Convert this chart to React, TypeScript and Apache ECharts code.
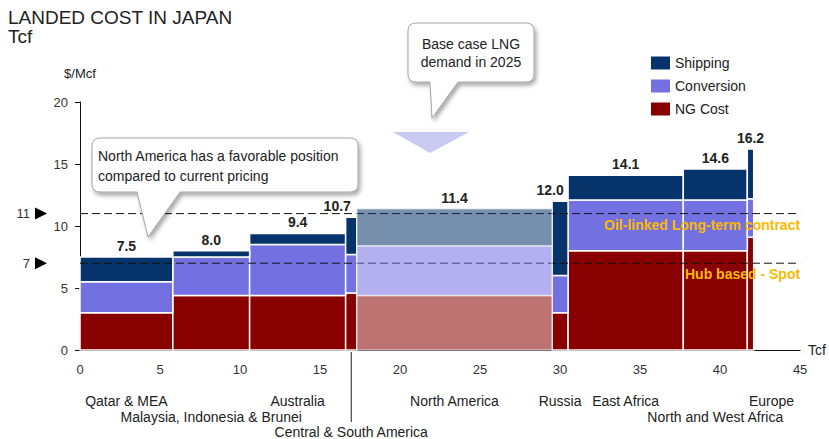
import React, { useEffect, useRef } from "react";
import * as echarts from "echarts";

// Supply regions, in merit order along the volume axis
const regions = [
  "Qatar & MEA",
  "Malaysia, Indonesia & Brunei",
  "Australia",
  "Central & South America",
  "North America",
  "Russia",
  "East Africa",
  "North and West Africa",
  "Europe",
];
// Volume (Tcf) supplied by each region = bar width
const volumeTcf = [5.8, 4.8, 6.0, 0.7, 12.2, 1.0, 7.2, 4.0, 0.4];
// Cost components ($/Mcf)
const ngCost = [3.0, 4.4, 4.4, 4.6, 4.4, 3.0, 8.0, 8.0, 9.1];
const conversion = [2.5, 3.1, 4.1, 3.1, 4.0, 3.0, 4.1, 4.1, 3.1];
const shipping = [2.0, 0.5, 0.9, 3.0, 3.0, 6.0, 2.0, 2.5, 4.0];
// Reference price levels ($/Mcf)
const priceLevels = [11, 7];
const priceLevelNames = ["Oil-linked Long-term contract", "Hub based - Spot"];
const highlightedRegion = "North America";

// Label layout (not data)
const categoryRow = [0, 1, 0, 2, 0, 0, 0, 1, 0];
const categoryShift = [0, 0, 0, 0, 0, 0, 0, 0, 21];
const totalShift = [0, 0, 0, -14, 0, -10, 0, 0, 0];

const FONT = "'Liberation Sans', Arial, sans-serif";
const C_SHIP = "#06336a";
const C_CONV = "#7370e2";
const C_NG = "#880000";
const GOLD = "#fbba00";

const starts: number[] = [];
volumeTcf.reduce((acc, v, i) => {
  starts[i] = acc;
  return acc + v;
}, 0);

const calloutA =
  "M8,0 H258 Q266,0 266,8 V46 Q266,54 258,54 H88 L56,99 L45,54 H8 Q0,54 0,46 V8 Q0,0 8,0 Z";
const calloutB =
  "M8,0 H118 Q126,0 126,8 V51 Q126,59 118,59 H50 L24,95 L22,59 H8 Q0,59 0,51 V8 Q0,0 8,0 Z";
echarts.graphic.registerShape("calloutA", echarts.graphic.extendPath(calloutA, {}));
echarts.graphic.registerShape("calloutB", echarts.graphic.extendPath(calloutB, {}));

type Part = "ng" | "conv" | "ship";

function segmentData(part: Part) {
  return regions.map((_, i) => {
    const base = part === "ng" ? 0 : part === "conv" ? ngCost[i] : ngCost[i] + conversion[i];
    const h = part === "ng" ? ngCost[i] : part === "conv" ? conversion[i] : shipping[i];
    return [starts[i], starts[i] + volumeTcf[i], base, base + h, i];
  });
}

function segmentSeries(name: string, part: Part, color: string, topLayer: boolean) {
  return {
    type: "custom",
    name,
    z: topLayer ? 4 : 2,
    itemStyle: { color },
    data: segmentData(part),
    encode: { x: [0, 1], y: [2, 3] },
    renderItem: (_params: any, api: any) => {
      const i = api.value(4);
      const isHi = regions[i] === highlightedRegion;
      const x0 = api.value(0);
      const x1 = api.value(1);
      const lo = api.value(2);
      const hi = api.value(3);
      const pTL = api.coord([x0, hi]);
      const pBR = api.coord([x1, lo]);
      const children: any[] = [];
      if (isHi === topLayer) {
        children.push({
          type: "rect",
          shape: { x: pTL[0], y: pTL[1], width: pBR[0] - pTL[0], height: pBR[1] - pTL[1] },
          style: {
            fill: color,
            stroke: "#ffffff",
            lineWidth: 1.5,
            opacity: isHi ? 0.55 : 1,
          },
        });
      }
      if (topLayer && part === "ship") {
        const total = ngCost[i] + conversion[i] + shipping[i];
        children.push({
          type: "text",
          x: (pTL[0] + pBR[0]) / 2 + totalShift[i],
          y: pTL[1] - 11,
          style: {
            text: total.toFixed(1),
            fill: "#222",
            font: `bold 14px ${FONT}`,
            align: "center",
            verticalAlign: "middle",
          },
        });
      }
      if (topLayer && part === "ng") {
        const cx = (pTL[0] + pBR[0]) / 2;
        const row = categoryRow[i];
        const ty = pBR[1] + 51 + row * 15.5;
        if (row === 2) {
          children.push({
            type: "line",
            shape: { x1: cx, y1: pBR[1] + 2, x2: cx, y2: ty - 10 },
            style: { stroke: "#222", lineWidth: 1 },
          });
        }
        children.push({
          type: "text",
          x: cx + categoryShift[i],
          y: ty,
          style: {
            text: regions[i],
            fill: "#222",
            font: `14px ${FONT}`,
            align: "center",
            verticalAlign: "middle",
          },
        });
      }
      return { type: "group", children };
    },
  };
}

const priceLineSeries = {
  type: "custom",
  name: "price levels",
  z: 3,
  data: priceLevels.map((v, i) => [v, i]),
  encode: { y: 0 },
  renderItem: (_params: any, api: any) => {
    const v = api.value(0);
    const i = api.value(1);
    const a = api.coord([0, v]);
    const b = api.coord([45, v]);
    return {
      type: "group",
      children: [
        {
          type: "line",
          shape: { x1: a[0], y1: a[1], x2: b[0], y2: b[1] },
          style: { stroke: "#111", lineWidth: 1, lineDash: [8, 4] },
        },
        {
          type: "text",
          x: b[0],
          y: a[1] + 11,
          style: {
            text: priceLevelNames[i],
            fill: GOLD,
            font: `bold 14px ${FONT}`,
            align: "right",
            verticalAlign: "middle",
          },
        },
        {
          type: "text",
          x: a[0] - 50,
          y: a[1],
          style: {
            text: String(v),
            fill: "#333",
            font: `13px ${FONT}`,
            align: "right",
            verticalAlign: "middle",
          },
        },
        {
          type: "polygon",
          shape: {
            points: [
              [a[0] - 45, a[1] - 6],
              [a[0] - 33, a[1]],
              [a[0] - 45, a[1] + 6],
            ],
          },
          style: { fill: "#000" },
        },
      ],
    };
  },
};

export default function App() {
  const ref = useRef<HTMLDivElement>(null);

  useEffect(() => {
    if (!ref.current) return;
    const chart = echarts.init(ref.current, undefined, { renderer: "svg" });
    chart.setOption({
      animation: false,
      textStyle: { fontFamily: FONT },
      grid: { left: 80, right: 28, top: 102, bottom: 89, containLabel: false },
      legend: {
        data: ["Shipping", "Conversion", "NG Cost"],
        orient: "vertical",
        left: 651,
        top: 56,
        padding: 0,
        itemWidth: 19,
        itemHeight: 13,
        itemGap: 9,
        icon: "rect",
        selectedMode: false,
        textStyle: { fontSize: 14, color: "#222", fontFamily: FONT },
      },
      xAxis: {
        type: "value",
        min: 0,
        max: 45,
        interval: 5,
        name: "Tcf",
        nameLocation: "end",
        nameGap: 8,
        nameTextStyle: { fontSize: 14, color: "#222", fontFamily: FONT },
        axisLine: { show: true, lineStyle: { color: "#111", width: 1 } },
        axisTick: { show: false },
        splitLine: { show: false },
        axisLabel: { fontSize: 13, color: "#333", margin: 13, fontFamily: FONT },
      },
      yAxis: {
        type: "value",
        min: 0,
        max: 20,
        interval: 5,
        name: "$/Mcf",
        nameLocation: "end",
        nameGap: 22,
        nameTextStyle: { fontSize: 13, color: "#222", align: "center", fontFamily: FONT },
        axisLine: { show: true, lineStyle: { color: "#111", width: 1 } },
        axisTick: { show: true, inside: false, length: 5, lineStyle: { color: "#111" } },
        splitLine: { show: false },
        axisLabel: { fontSize: 13, color: "#333", margin: 12, fontFamily: FONT },
      },
      series: [
        segmentSeries("NG Cost", "ng", C_NG, false),
        segmentSeries("Conversion", "conv", C_CONV, false),
        segmentSeries("Shipping", "ship", C_SHIP, false),
        priceLineSeries,
        segmentSeries("NG Cost", "ng", C_NG, true),
        segmentSeries("Conversion", "conv", C_CONV, true),
        segmentSeries("Shipping", "ship", C_SHIP, true),
      ],
      graphic: [
        {
          type: "text",
          left: 8,
          top: 8,
          style: { text: "LANDED COST IN JAPAN", fill: "#222", font: `19px ${FONT}` },
        },
        {
          type: "text",
          left: 8,
          top: 27,
          style: { text: "Tcf", fill: "#222", font: `19px ${FONT}` },
        },
        {
          type: "polygon",
          z: 10,
          shape: { points: [[393, 132], [469, 132], [430, 153]] },
          style: { fill: "#cacaf3" },
        },
        {
          type: "calloutA",
          x: 92,
          y: 138,
          z: 10,
          style: {
            fill: "#fff",
            stroke: "#a5a5a5",
            lineWidth: 1,
            shadowBlur: 4,
            shadowOffsetX: 2,
            shadowOffsetY: 3,
            shadowColor: "rgba(0,0,0,0.35)",
          },
        },
        {
          type: "text",
          x: 98,
          y: 156,
          z: 11,
          style: {
            text: "North America has a favorable position",
            fill: "#222",
            font: `14px ${FONT}`,
            verticalAlign: "middle",
          },
        },
        {
          type: "text",
          x: 98,
          y: 176,
          z: 11,
          style: {
            text: "compared to current pricing",
            fill: "#222",
            font: `14px ${FONT}`,
            verticalAlign: "middle",
          },
        },
        {
          type: "calloutB",
          x: 408,
          y: 23,
          z: 10,
          style: {
            fill: "#fff",
            stroke: "#a5a5a5",
            lineWidth: 1,
            shadowBlur: 4,
            shadowOffsetX: 2,
            shadowOffsetY: 3,
            shadowColor: "rgba(0,0,0,0.35)",
          },
        },
        {
          type: "text",
          x: 471,
          y: 44,
          z: 11,
          style: {
            text: "Base case LNG",
            fill: "#222",
            font: `14px ${FONT}`,
            align: "center",
            verticalAlign: "middle",
          },
        },
        {
          type: "text",
          x: 471,
          y: 62,
          z: 11,
          style: {
            text: "demand in 2025",
            fill: "#222",
            font: `14px ${FONT}`,
            align: "center",
            verticalAlign: "middle",
          },
        },
      ],
    });
    return () => chart.dispose();
  }, []);

  return (
    <div
      ref={ref}
      style={{ position: "absolute", left: 0, top: 0, width: 829, height: 439 }}
    />
  );
}
